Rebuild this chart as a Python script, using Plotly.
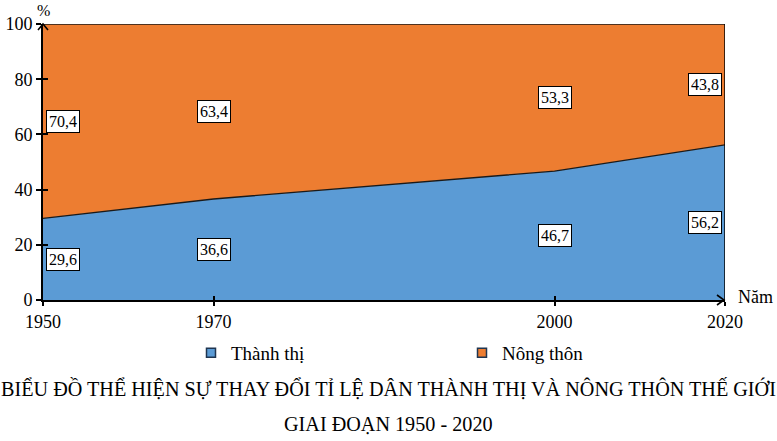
import plotly.graph_objects as go

years = ["1950", "1970", "2000", "2020"]
x_pos = [0, 1, 3, 4]  # category positions along the axis (Excel-like uneven spacing)
urban = [29.6, 36.6, 46.7, 56.2]
rural = [70.4, 63.4, 53.3, 43.8]
series_names = ["Thành thị", "Nông thôn"]
colors = ["#5B9BD5", "#ED7D31"]
y_ticks = [0, 20, 40, 60, 80, 100]
title_lines = ["BIỂU ĐỒ THỂ HIỆN SỰ THAY ĐỔI TỈ LỆ DÂN THÀNH THỊ VÀ NÔNG THÔN THẾ GIỚI",
               "GIAI ĐOẠN 1950 - 2020"]

FONT = "Liberation Serif"
L, R, T, B = 43, 52, 24, 141
W, H = 777, 441
PW, PH = W - L - R, H - T - B

fig = go.Figure()
for name, vals, col in zip(series_names, [urban, rural], colors):
    fig.add_trace(go.Scatter(x=x_pos, y=vals, stackgroup="one", mode="lines",
                             line=dict(color="#1a1a1a", width=1.3),
                             fillcolor=col, showlegend=False, hoverinfo="skip"))
for name, col in zip(series_names, colors):
    fig.add_trace(go.Scatter(x=[None], y=[None], mode="markers", name=name,
                             marker=dict(symbol="square", size=9, color=col,
                                         line=dict(color="#1f3550", width=1.5))))

def fmt(v):
    return f"{v:.1f}".replace(".", ",")

shifts = [20, 0, 0, -20]
for i, xp in enumerate(x_pos):
    for yv, v in [(urban[i] / 2, urban[i]), (urban[i] + rural[i] / 2, rural[i])]:
        fig.add_annotation(x=xp, y=yv, text=fmt(v), showarrow=False, xshift=shifts[i],
                           bgcolor="white", bordercolor="black", borderwidth=1, borderpad=2,
                           font=dict(family=FONT, size=16, color="black"))

# axis labels
fig.add_annotation(xref="paper", yref="paper", x=0, y=1, xshift=0, yshift=3, text="%",
                   showarrow=False, xanchor="center", yanchor="bottom",
                   font=dict(family=FONT, size=16, color="black"))
fig.add_annotation(xref="paper", yref="paper", x=1, y=0, xshift=11, yshift=3, text="Năm",
                   showarrow=False, xanchor="left", yanchor="middle",
                   font=dict(family=FONT, size=18, color="black"))

# title
for k, line in enumerate(title_lines):
    fig.add_annotation(xref="paper", yref="paper", x=(W / 2 - L) / PW,
                       y=-(389 + 35 * k - (T + PH)) / PH, text=line, showarrow=False,
                       xanchor="center", yanchor="middle",
                       font=dict(family=FONT, size=20.2, color="black"))

# arrow chevrons on axes (decoration)
def px2paper(px, py):
    return (px - L) / PW, 1 - (py - T) / PH

shapes = []
for pts in [[(38, 30), (43, 24), (48, 30)], [(717, 295), (724, 300), (717, 305)]]:
    path = "M " + " L ".join(f"{px2paper(*p)[0]},{px2paper(*p)[1]}" for p in pts)
    shapes.append(dict(type="path", xref="paper", yref="paper", path=path,
                       line=dict(color="black", width=1.6)))
fig.update_layout(shapes=shapes)

fig.update_layout(
    width=W, height=H, margin=dict(l=L, r=R, t=T, b=B, autoexpand=False),
    paper_bgcolor="white", plot_bgcolor="white",
    font=dict(family=FONT, size=18, color="black"),
    xaxis=dict(range=[0, 4], tickmode="array", tickvals=x_pos, ticktext=years,
               showgrid=False, zeroline=False, showline=True, linecolor="black", linewidth=2,
               ticks="outside", ticklen=4, tickwidth=2, tickcolor="black", automargin=False,
               tickfont=dict(family=FONT, size=18)),
    yaxis=dict(range=[0, 100], tickmode="array", tickvals=y_ticks,
               showgrid=False, zeroline=False, showline=True, linecolor="black", linewidth=2,
               mirror=False, ticks="outside", ticklen=5, tickwidth=2, tickcolor="black",
               automargin=False, tickfont=dict(family=FONT, size=18)),
    xaxis2=dict(overlaying="x", range=[0, 4], tickmode="array", tickvals=[1, 3],
                showticklabels=False, showgrid=False, zeroline=False, ticks="inside",
                ticklen=4, tickwidth=2, tickcolor="black", side="bottom", automargin=False),
    yaxis2=dict(overlaying="y", range=[0, 100], tickmode="array", tickvals=y_ticks[1:],
                showticklabels=False, showgrid=False, zeroline=False, ticks="inside",
                ticklen=5, tickwidth=2, tickcolor="black", side="left", automargin=False),
    legend=dict(orientation="h", x=(191 - L) / PW, y=-(334 - (T + PH)) / PH,
                xanchor="left", yanchor="top", entrywidth=226, entrywidthmode="pixels",
                traceorder="normal", font=dict(family=FONT, size=19), itemwidth=30,
                bgcolor="rgba(0,0,0,0)"),
)
# dummy trace to activate secondary axes
fig.add_trace(go.Scatter(x=[None], y=[None], xaxis="x2", yaxis="y2", showlegend=False))
# right border line at last category
fig.add_shape(type="line", xref="x", yref="y", x0=x_pos[-1], x1=x_pos[-1], y0=0, y1=100,
              line=dict(color="black", width=1.5))

fig.write_html("out.html")
